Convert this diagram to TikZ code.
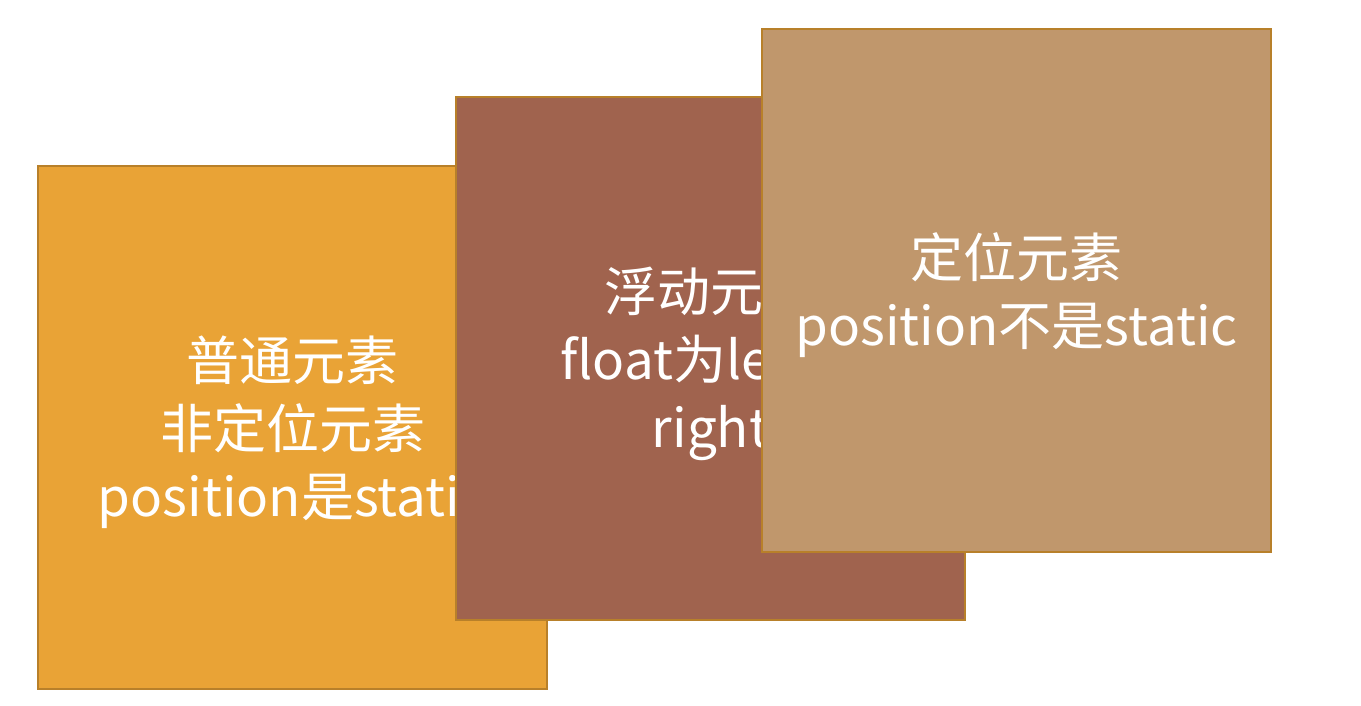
\documentclass[tikz,border=0pt]{standalone}
\usepackage{fontspec}
\setmainfont{Noto Sans CJK SC}
\definecolor{cOrange}{HTML}{E9A336}
\definecolor{cBrown}{HTML}{A0634E}
\definecolor{cTan}{HTML}{C0976C}
\definecolor{cEdge}{HTML}{B8802A}
\begin{document}
\begin{tikzpicture}[x=1pt,y=1pt,
  card/.style={draw=cEdge, line width=2pt, minimum width=509pt, minimum height=523pt,
    inner sep=0pt},
  cardtext/.style={text=white, align=center, inner sep=0pt, yshift=-5pt,
    font=\fontsize{53}{68}\selectfont}]
\useasboundingbox (0,0) rectangle (1361,706);
\node[card, fill=cOrange] (a) at (292.5,278.5) {};
\node[cardtext] (ta) at (a.center) {普通元素\\非定位元素\\position是static};
\node[card, fill=cBrown] (b) at (710.5,347) {};
\node[cardtext] (tb) at (b.center) {浮动元素\\float为left或\\right};
\node[card, fill=cTan] (c) at (1016.5,415.5) {};
\node[cardtext] (tc) at (c.center) {定位元素\\position不是static};
\end{tikzpicture}
\end{document}
